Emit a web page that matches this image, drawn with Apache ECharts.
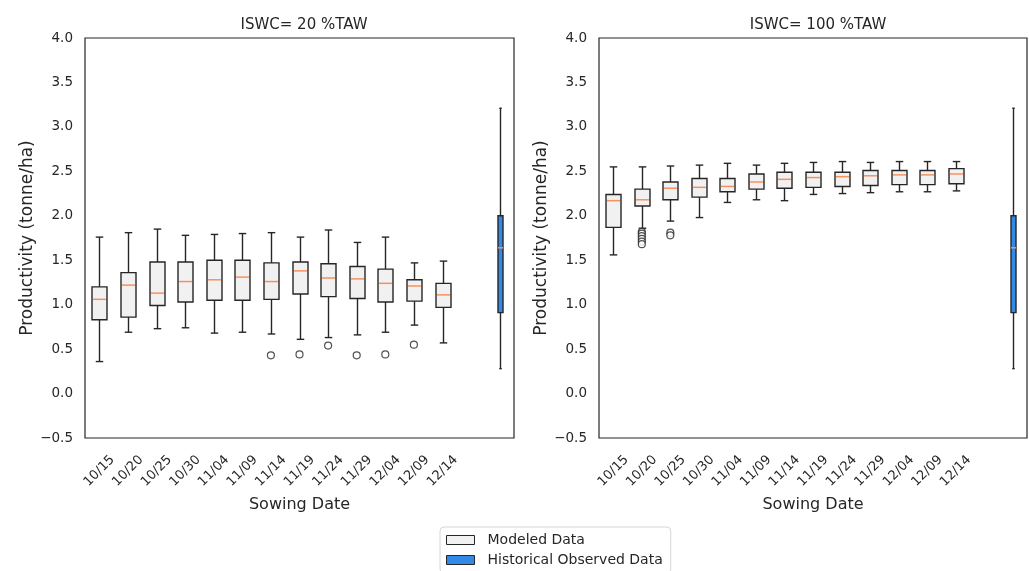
<!DOCTYPE html>
<html>
<head>
<meta charset="utf-8">
<title>Productivity by sowing date</title>
<script src="https://cdn.jsdelivr.net/npm/echarts@6/dist/echarts.min.js"></script>
<style>
  html, body { margin: 0; padding: 0; background: #fff; }
  #chart { width: 1029px; height: 571px; }
</style>
</head>
<body>
<div id="chart"></div>
<script>
// x categories: 13 sowing dates, then one empty slot and the slot of the observed box
const sowingDates = ['10/15', '10/20', '10/25', '10/30', '11/04', '11/09', '11/14',
  '11/19', '11/24', '11/29', '12/04', '12/09', '12/14'];
const slotLabels = sowingDates.concat(['', '']);
const observedSlot = 14;

// ISWC = 20 %TAW (modeled)
const low20 = [0.36, 0.69, 0.73, 0.74, 0.68, 0.69, 0.67, 0.61, 0.63, 0.66, 0.69, 0.77, 0.57];
const q1_20 = [0.83, 0.86, 0.99, 1.03, 1.05, 1.05, 1.06, 1.12, 1.09, 1.07, 1.03, 1.04, 0.97];
const med20 = [1.06, 1.22, 1.13, 1.26, 1.28, 1.31, 1.26, 1.38, 1.30, 1.29, 1.24, 1.21, 1.11];
const q3_20 = [1.20, 1.36, 1.48, 1.48, 1.50, 1.50, 1.47, 1.48, 1.46, 1.43, 1.40, 1.28, 1.24];
const high20 = [1.76, 1.81, 1.85, 1.78, 1.79, 1.80, 1.81, 1.76, 1.84, 1.70, 1.76, 1.47, 1.49];
const outliers20 = [[6, 0.43], [7, 0.44], [8, 0.54], [9, 0.43], [10, 0.44], [11, 0.55]];

// ISWC = 100 %TAW (modeled)
const low100 = [1.56, 1.86, 1.94, 1.98, 2.15, 2.18, 2.17, 2.24, 2.25, 2.26, 2.27, 2.27, 2.28];
const q1_100 = [1.87, 2.11, 2.18, 2.21, 2.27, 2.30, 2.31, 2.32, 2.33, 2.34, 2.35, 2.35, 2.36];
const med100 = [2.17, 2.18, 2.31, 2.32, 2.33, 2.38, 2.41, 2.43, 2.44, 2.45, 2.46, 2.46, 2.47];
const q3_100 = [2.24, 2.30, 2.38, 2.42, 2.42, 2.47, 2.49, 2.49, 2.49, 2.51, 2.51, 2.51, 2.53];
const high100 = [2.55, 2.55, 2.56, 2.57, 2.59, 2.57, 2.59, 2.60, 2.61, 2.60, 2.61, 2.61, 2.61];
const outliers100 = [[1, 1.82], [1, 1.80], [1, 1.77], [1, 1.74], [1, 1.71], [1, 1.68],
  [2, 1.81], [2, 1.78]];

// historical observed data (same box in both panels)
const observed = [0.28, 0.91, 1.64, 2.00, 3.21];

const EDGE = '#262626';
const MEDIAN = '#f7915c';
const MODEL_FILL = '#f1f1f1';
const OBS_FILL = '#3389e8';
const FONT = 'DejaVu Sans';
const TEXT = '#262626';

const chart = echarts.init(document.getElementById('chart'));

function boxData(lo, q1, md, q3, hi) {
  return sowingDates.map((d, i) => [i, lo[i], q1[i], md[i], q3[i], hi[i]]);
}

// matplotlib-like box: caps are half the box width
function boxRenderer(boxW, fill, medianInset) {
  return function (params, api) {
    const x = api.value(0);
    const lo = api.coord([x, api.value(1)]);
    const q1 = api.coord([x, api.value(2)]);
    const md = api.coord([x, api.value(3)]);
    const q3 = api.coord([x, api.value(4)]);
    const hi = api.coord([x, api.value(5)]);
    const cx = Math.round(lo[0]) + 0.5;
    const half = boxW / 2;
    const cap = boxW / 4;
    const edge = { stroke: EDGE, lineWidth: 1.4 };
    return {
      type: 'group',
      children: [
        { type: 'line', shape: { x1: cx, y1: q1[1], x2: cx, y2: lo[1] }, style: edge },
        { type: 'line', shape: { x1: cx, y1: q3[1], x2: cx, y2: hi[1] }, style: edge },
        { type: 'line', shape: { x1: cx - cap, y1: lo[1], x2: cx + cap, y2: lo[1] }, style: edge },
        { type: 'line', shape: { x1: cx - cap, y1: hi[1], x2: cx + cap, y2: hi[1] }, style: edge },
        {
          type: 'rect',
          shape: { x: cx - half, y: q3[1], width: boxW, height: q1[1] - q3[1] },
          style: { fill: fill, stroke: EDGE, lineWidth: 1.4 }
        },
        {
          type: 'line',
          shape: { x1: cx - half + medianInset, y1: md[1], x2: cx + half - medianInset, y2: md[1] },
          style: { stroke: MEDIAN, lineWidth: 1.5 }
        }
      ]
    };
  };
}

function panelSeries(idx, boxes, outliers) {
  return [
    {
      name: 'Modeled Data',
      type: 'custom',
      xAxisIndex: idx,
      yAxisIndex: idx,
      renderItem: boxRenderer(15, MODEL_FILL, 1),
      encode: { x: 0, y: [1, 2, 3, 4, 5] },
      data: boxes
    },
    {
      name: 'Historical Observed Data',
      type: 'custom',
      xAxisIndex: idx,
      yAxisIndex: idx,
      renderItem: boxRenderer(5, OBS_FILL, 0),
      encode: { x: 0, y: [1, 2, 3, 4, 5] },
      data: [[observedSlot].concat(observed)]
    },
    {
      name: 'Modeled Data',
      type: 'scatter',
      xAxisIndex: idx,
      yAxisIndex: idx,
      symbol: 'circle',
      symbolSize: 7,
      itemStyle: { color: '#fff', borderColor: EDGE, borderWidth: 1.2 },
      data: outliers
    }
  ];
}

function xAxisFor(idx) {
  return {
    type: 'category',
    gridIndex: idx,
    data: slotLabels,
    boundaryGap: true,
    axisLine: { show: false },
    axisTick: { show: false },
    // centred rotated labels, like matplotlib's rotation=45
    axisLabel: {
      interval: 0, rotate: 45, margin: 33, align: 'center', verticalAlign: 'middle',
      fontFamily: FONT, fontSize: 13, color: TEXT
    },
    name: 'Sowing Date',
    nameLocation: 'middle',
    nameGap: 59,
    nameTextStyle: { fontFamily: FONT, fontSize: 16, color: TEXT }
  };
}

function yAxisFor(idx) {
  return {
    type: 'value',
    gridIndex: idx,
    min: -0.5,
    max: 4,
    interval: 0.5,
    axisLine: { show: false },
    axisTick: { show: false },
    splitLine: { show: false },
    axisLabel: {
      margin: 12,
      fontFamily: FONT,
      fontSize: 13.5,
      color: TEXT,
      formatter: v => (v < 0 ? '\u2212' + Math.abs(v).toFixed(1) : v.toFixed(1))
    },
    name: 'Productivity (tonne/ha)',
    nameLocation: 'middle',
    nameGap: 48,
    nameTextStyle: { fontFamily: FONT, fontSize: 17, color: TEXT }
  };
}

const option = {
  backgroundColor: '#fff',
  animation: false,
  title: [
    { text: 'ISWC= 20 %TAW', left: 299, top: 13, textAlign: 'center',
      textStyle: { fontFamily: FONT, fontSize: 15, fontWeight: 'normal', color: TEXT } },
    { text: 'ISWC= 100 %TAW', left: 813, top: 13, textAlign: 'center',
      textStyle: { fontFamily: FONT, fontSize: 15, fontWeight: 'normal', color: TEXT } }
  ],
  legend: {
    orient: 'vertical',
    left: 440,
    top: 527,
    height: 60,
    padding: [6, 8, 6, 6],
    itemGap: 6,
    itemWidth: 28,
    itemHeight: 9,
    borderColor: '#d6d6d6',
    borderWidth: 1,
    borderRadius: 4,
    textStyle: { fontFamily: FONT, fontSize: 14, color: TEXT, padding: [0, 0, 0, 8] },
    data: [
      { name: 'Modeled Data', icon: 'rect',
        itemStyle: { color: MODEL_FILL, borderColor: EDGE, borderWidth: 1 } },
      { name: 'Historical Observed Data', icon: 'rect',
        itemStyle: { color: OBS_FILL, borderColor: EDGE, borderWidth: 1 } }
    ]
  },
  grid: [
    { left: 85, right: 515, top: 38, bottom: 133, show: true, borderColor: EDGE, borderWidth: 1.2 },
    { left: 599, right: 2, top: 38, bottom: 133, show: true, borderColor: EDGE, borderWidth: 1.2 }
  ],
  xAxis: [xAxisFor(0), xAxisFor(1)],
  yAxis: [yAxisFor(0), yAxisFor(1)],
  series: [].concat(
    panelSeries(0, boxData(low20, q1_20, med20, q3_20, high20), outliers20),
    panelSeries(1, boxData(low100, q1_100, med100, q3_100, high100), outliers100)
  )
};

chart.setOption(option);
</script>
</body>
</html>
